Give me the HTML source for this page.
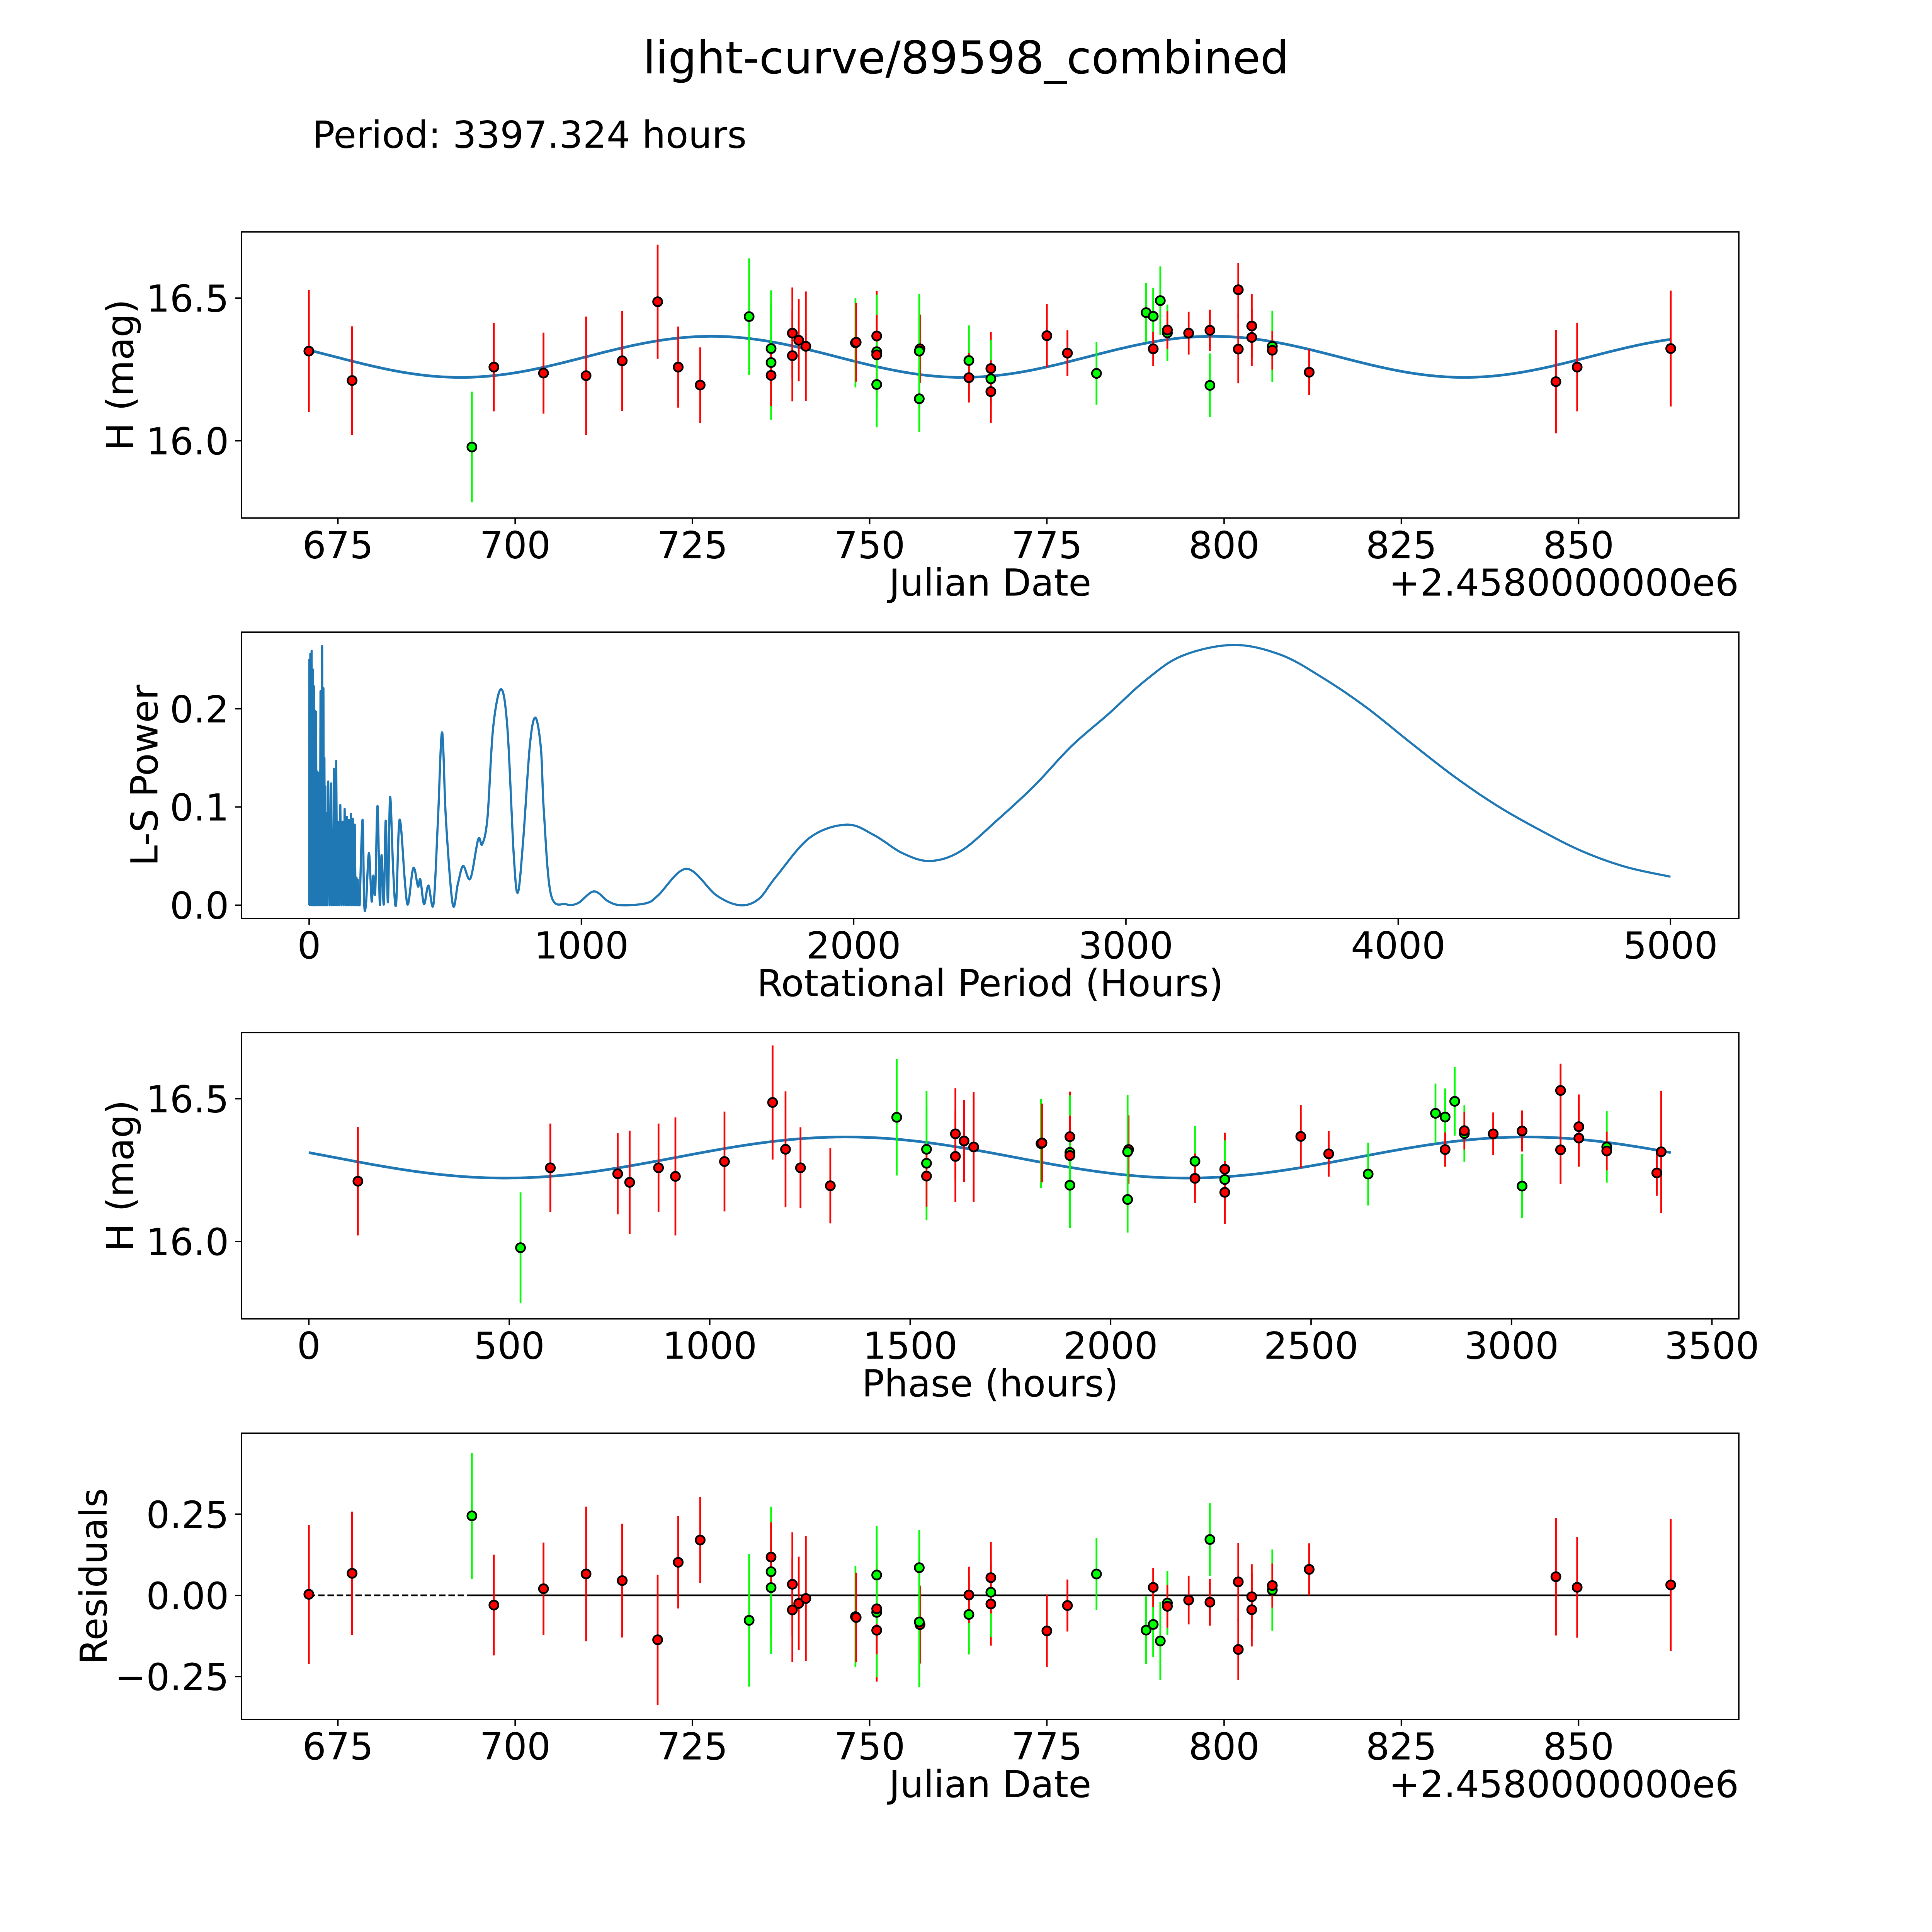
<!DOCTYPE html>
<html><head><meta charset="utf-8"><style>
html,body{margin:0;padding:0;background:#fff;width:100%;height:100%;overflow:hidden}
svg{display:block;width:100vw;height:100vh}
text{font-family:"DejaVu Sans","Liberation Sans",sans-serif;fill:#000}
</style></head><body>
<svg id="fig" xmlns="http://www.w3.org/2000/svg" viewBox="0 0 5400 5400" preserveAspectRatio="none">
<rect x="0" y="0" width="5400" height="5400" fill="#fff"/>
<text x="2700" y="205" font-size="126" text-anchor="middle">light-curve/89598_combined</text>
<text x="873" y="413" font-size="104">Period: 3397.324 hours</text>
<g id="layer"></g>
</svg>
<script>
// ---- data ----
const dates = [670.9,677.0,693.9,697.0,704.0,710.0,715.1,720.1,723.0,726.1,733.0,736.1,736.1,736.1,739.1,739.1,740.0,741.0,748.0,748.1,751.0,751.0,751.0,751.0,757.1,757.0,757.0,764.0,764.0,767.1,767.1,767.1,775.0,777.9,782.0,789.0,790.0,790.0,791.0,792.0,792.0,795.0,798.0,798.0,802.0,802.0,803.9,803.9,806.8,806.8,812.0,846.8,849.8,863.0];
const mags = [16.314,16.211,15.978,16.258,16.237,16.228,16.280,16.487,16.258,16.195,16.435,16.323,16.274,16.229,16.377,16.298,16.352,16.331,16.343,16.345,16.367,16.312,16.301,16.197,16.322,16.314,16.147,16.281,16.221,16.253,16.217,16.172,16.368,16.307,16.236,16.449,16.436,16.322,16.491,16.378,16.388,16.377,16.387,16.194,16.529,16.321,16.402,16.362,16.331,16.317,16.240,16.207,16.258,16.323];
const errs = [0.214,0.19,0.194,0.155,0.142,0.207,0.175,0.20,0.142,0.132,0.204,0.204,0.20,0.107,0.16,0.16,0.144,0.192,0.156,0.138,0.158,0.20,0.14,0.15,0.12,0.2,0.116,0.123,0.087,0.128,0.137,0.11,0.111,0.08,0.11,0.104,0.10,0.06,0.12,0.099,0.066,0.075,0.072,0.112,0.094,0.12,0.113,0.10,0.125,0.068,0.08,0.181,0.155,0.203];
const bands = ["r","r","g","r","r","r","r","r","r","r","g","g","g","r","r","r","r","r","g","r","r","g","r","g","r","g","g","g","r","r","g","r","r","r","g","g","g","r","g","g","r","r","r","g","r","r","r","r","g","r","r","r","r","r"];
const periodHours = 3397.324;
const phaseZero = 671.9;
const modelMean = 16.294, modelAmp = 0.072, modelPeak = 727.7;
// periodogram: dense spike region
const spikePeriods = [0.8,4.4,9.1,13.8,17.3,22,25.5,30.2,37.2,41.9,47.8,52.5,56,59.5,63.6,70.1,80.6,85.3,90.6,99.4,106.4,114.6,122.8,130.5,139.3,145.1,153.4,160.4,167.5,174,178.6];
const spikePowers = [0.250,0.256,0.259,0.240,0.223,0.198,0.197,0.136,0.135,0.218,0.264,0.221,0.150,0.121,0.094,0.126,0.124,0.077,0.139,0.147,0.085,0.102,0.085,0.098,0.090,0.087,0.093,0.088,0.082,0.028,0.026];
// periodogram: smooth region
const lsPeriods = [185.6,196.2,202,209,219.6,229.7,235.5,242.6,251.3,259.6,266,274.3,281.3,289.5,297.2,308.9,319.4,332.3,352.8,363.3,379.2,388,399.8,408.6,422,437.9,456.7,473.1,488.3,502.5,527.3,546.5,565.7,592.1,620.9,635.6,655,675.5,704.7,728.3,751.7,767,786.9,810.4,830.9,851.5,862,888,943,987,1046,1098,1145,1238,1282,1386,1496,1581,1650,1715,1840,1975,2077,2179,2280,2393,2529,2665,2800,2937,3072,3207,3394,3568,3726,3885,4043,4201,4359,4517,4675,4835,5000];
const lsPowers = [0.0,0.087,0.003,0.002,0.053,0.004,0.030,0.013,0.101,0.001,0.051,0.001,0.086,0.003,0.110,0.034,0.001,0.087,0.020,0.001,0.034,0.036,0.019,0.026,0.001,0.020,0.001,0.087,0.176,0.087,0.001,0.022,0.040,0.027,0.067,0.062,0.089,0.180,0.220,0.180,0.050,0.013,0.069,0.162,0.191,0.159,0.096,0.011,0.001,0.002,0.014,0.004,0.0,0.002,0.010,0.037,0.010,0.0,0.006,0.029,0.069,0.082,0.071,0.053,0.045,0.055,0.087,0.122,0.162,0.195,0.229,0.254,0.265,0.255,0.231,0.201,0.166,0.132,0.102,0.077,0.055,0.039,0.029];
// ticks
const jdTicks = [675,700,725,750,775,800,825,850];
const magTicks = [16.0,16.5];
const magTickLabels = ["16.0","16.5"];
const lsXTicks = [0,1000,2000,3000,4000,5000];
const lsYTicks = [0.0,0.1,0.2];
const lsYTickLabels = ["0.0","0.1","0.2"];
const phaseTicks = [0,500,1000,1500,2000,2500,3000,3500];
const resTicks = [-0.25,0,0.25];
const resTickLabels = ["\u22120.25","0.00","0.25"];

// ---- layout ----
const NS = "http://www.w3.org/2000/svg";
const layer = document.getElementById('layer');
const L = 675, R = 4860, W = R - L, H = 800;
const FS = 104;
const tops = [648, 1767, 2886, 4006];
function mk(tag, attrs, parent) {
  const e = document.createElementNS(NS, tag);
  for (const k in attrs) e.setAttribute(k, attrs[k]);
  (parent || layer).appendChild(e);
  return e;
}
function lin(d0, d1, r0, r1) { return v => r0 + (v - d0) / (d1 - d0) * (r1 - r0); }
const xJD = lin(661.4, 872.6, L, R);
const yMag1 = lin(16.732, 15.729, tops[0], tops[0] + H);
const xLS = lin(-248.4, 5250.9, L, R);
const yLS = lin(0.278, -0.0135, tops[1], tops[1] + H);
const xPh = lin(-168, 3567, L, R);
const yMag3 = lin(16.732, 15.729, tops[2], tops[2] + H);
const yRes = lin(0.499, -0.382, tops[3], tops[3] + H);
const model = t => modelMean + modelAmp * Math.cos(2 * Math.PI * (t - modelPeak) / (periodHours / 24 / 2));
const colorOf = b => b === "g" ? "#00ff00" : "#ff0000";

function frame(top, name) {
  const r = mk('rect', {x: L, y: top, width: W, height: H, fill: 'none', stroke: '#000', 'stroke-width': 4});
  
  
}
function xTicks(ticks, fx, top, labels) {
  ticks.forEach((v, i) => {
    const x = fx(v);
    const t = mk('line', {x1: x, x2: x, y1: top + H, y2: top + H + 17.5, stroke: '#000', 'stroke-width': 4});
    
    
    const tx = mk('text', {x: x, y: top + H + 112, 'font-size': FS, 'text-anchor': 'middle'});
    tx.textContent = labels ? labels[i] : String(v);
    
    
  });
}
function yTicks(ticks, labels, fy) {
  ticks.forEach((v, i) => {
    const y = fy(v);
    const t = mk('line', {x1: L - 17.5, x2: L, y1: y, y2: y, stroke: '#000', 'stroke-width': 4});
    
    
    const tx = mk('text', {x: L - 35, y: y + 38, 'font-size': FS, 'text-anchor': 'end'});
    tx.textContent = labels[i];
    
    
  });
}
function xLabel(txt, top, name) {
  const t = mk('text', {x: (L + R) / 2, y: top + H + 217, 'font-size': FS, 'text-anchor': 'middle'});
  t.textContent = txt;
  
  
}
function yLabel(txt, top, cx, name) {
  const cy = top + H / 2;
  const t = mk('text', {x: cx + 36, y: cy, 'font-size': FS, 'text-anchor': 'middle', transform: 'rotate(-90 ' + (cx + 36) + ' ' + cy + ')'});
  t.textContent = txt;
  
  
}
function offsetText(top) {
  const t = mk('text', {x: R, y: top + H + 217, 'font-size': FS, 'text-anchor': 'end'});
  t.textContent = '+2.4580000000e6';
  
  
}
function points(xs, ys, es, fx, fy, name) {
  const g = mk('g', {});
  
  
  xs.forEach((xv, i) => {
    const x = fx(xv);
    const e = mk('line', {x1: x, x2: x, y1: fy(ys[i] + es[i]), y2: fy(ys[i] - es[i]), stroke: colorOf(bands[i]), 'stroke-width': 5}, g);
    
    
  });
  xs.forEach((xv, i) => {
    const c = mk('circle', {cx: fx(xv), cy: fy(ys[i]), r: 12.5, fill: colorOf(bands[i]), stroke: '#000', 'stroke-width': 5}, g);
    
    
  });
}

// ---- panel 1: light curve ----
(function () {
  const t0 = dates[0], t1 = dates[dates.length - 1];
  let d = '';
  for (let i = 0; i <= 400; i++) {
    const t = t0 + (t1 - t0) * i / 400;
    d += (i ? 'L' : 'M') + xJD(t).toFixed(1) + ',' + yMag1(model(t)).toFixed(1);
  }
  const p = mk('path', {d: d, fill: 'none', stroke: '#1f77b4', 'stroke-width': 7.5});
  
  
  points(dates, mags, errs, xJD, yMag1, 'lightcurve-points');
  frame(tops[0], 'lightcurve-axes');
  xTicks(jdTicks, xJD, tops[0]);
  yTicks(magTicks, magTickLabels, yMag1);
  xLabel('Julian Date', tops[0], 'x-axis-title');
  offsetText(tops[0]);
  yLabel('H (mag)', tops[0], 336, 'y-axis-title');
})();

// ---- panel 2: periodogram ----
(function () {
  const pts = [[0, 0]];
  spikePeriods.forEach((p, i) => {
    pts.push([p, spikePowers[i]]);
    const nxt = i + 1 < spikePeriods.length ? spikePeriods[i + 1] : lsPeriods[0];
    pts.push([(p + nxt) / 2, 0]);
  });
  let d = pts.map((q, i) => (i ? 'L' : 'M') + xLS(q[0]).toFixed(1) + ',' + yLS(q[1]).toFixed(1)).join('');
  const sp = lsPeriods.map((p, i) => [xLS(p), yLS(lsPowers[i])]);
  d += 'L' + sp[0][0].toFixed(1) + ',' + sp[0][1].toFixed(1);
  for (let i = 0; i < sp.length - 1; i++) {
    const p0 = sp[Math.max(0, i - 1)], p1 = sp[i], p2 = sp[i + 1], p3 = sp[Math.min(sp.length - 1, i + 2)];
    const c1x = p1[0] + (p2[0] - p0[0]) / 6, c1y = p1[1] + (p2[1] - p0[1]) / 6;
    const c2x = p2[0] - (p3[0] - p1[0]) / 6, c2y = p2[1] - (p3[1] - p1[1]) / 6;
    d += 'C' + c1x.toFixed(1) + ',' + c1y.toFixed(1) + ' ' + c2x.toFixed(1) + ',' + c2y.toFixed(1) + ' ' + p2[0].toFixed(1) + ',' + p2[1].toFixed(1);
  }
  const p = mk('path', {d: d, fill: 'none', stroke: '#1f77b4', 'stroke-width': 6, 'stroke-linejoin': 'round'});
  
  
  frame(tops[1], 'periodogram-axes');
  xTicks(lsXTicks, xLS, tops[1]);
  yTicks(lsYTicks, lsYTickLabels, yLS);
  xLabel('Rotational Period (Hours)', tops[1], 'x-axis-title');
  yLabel('L-S Power', tops[1], 404, 'y-axis-title');
})();

// ---- panel 3: phased ----
(function () {
  const phases = dates.map(t => (((t - phaseZero) * 24) % periodHours + periodHours) % periodHours);
  let d = '';
  for (let i = 0; i <= 400; i++) {
    const ph = periodHours * i / 400;
    d += (i ? 'L' : 'M') + xPh(ph).toFixed(1) + ',' + yMag3(model(phaseZero + ph / 24)).toFixed(1);
  }
  const p = mk('path', {d: d, fill: 'none', stroke: '#1f77b4', 'stroke-width': 7.5});
  
  
  points(phases, mags, errs, xPh, yMag3, 'phased-points');
  frame(tops[2], 'phased-axes');
  xTicks(phaseTicks, xPh, tops[2]);
  yTicks(magTicks, magTickLabels, yMag3);
  xLabel('Phase (hours)', tops[2], 'x-axis-title');
  yLabel('H (mag)', tops[2], 336, 'y-axis-title');
})();

// ---- panel 4: residuals ----
(function () {
  const res = dates.map((t, i) => model(t) - mags[i]);
  const y0 = yRes(0);
  const l1 = mk('line', {x1: xJD(dates[0]), x2: xJD(dates[2]), y1: y0, y2: y0, stroke: '#000', 'stroke-width': 5, 'stroke-dasharray': '18,8'});
  
  
  const l2 = mk('line', {x1: xJD(dates[2]), x2: xJD(dates[dates.length - 1]), y1: y0, y2: y0, stroke: '#000', 'stroke-width': 5});
  
  
  points(dates, res, errs, xJD, yRes, 'residual-points');
  frame(tops[3], 'residuals-axes');
  xTicks(jdTicks, xJD, tops[3]);
  yTicks(resTicks, resTickLabels, yRes);
  xLabel('Julian Date', tops[3], 'x-axis-title');
  offsetText(tops[3]);
  yLabel('Residuals', tops[3], 262, 'y-axis-title');
})();
</script>
</body></html>
